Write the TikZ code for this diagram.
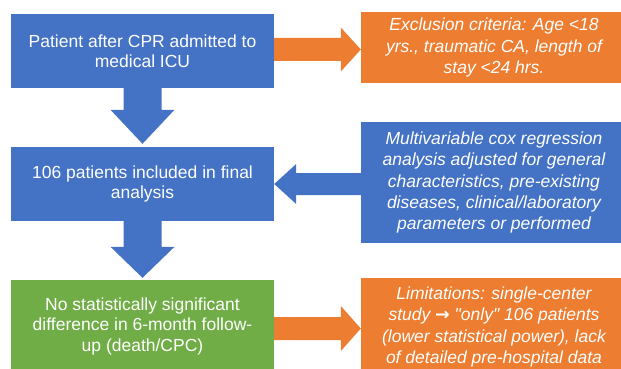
\documentclass[tikz,border=0pt]{standalone}
\usepackage{fontspec}
\setmainfont{Liberation Sans}
\newfontfamily\arrowfont{DejaVu Sans}
\usetikzlibrary{positioning,calc}
\definecolor{boxblue}{RGB}{68,114,196}
\definecolor{boxorange}{RGB}{237,125,49}
\definecolor{boxgreen}{RGB}{112,173,71}

% block arrow: colour, start, tip, shaft half width, head half width, head length
\newcommand{\bigarrow}[6]{%
  \coordinate (hb) at ($(#3)!#6!(#2)$);
  \fill[#1] ($(#2)!#4!90:(#3)$) -- ($(hb)!#4!90:(#3)$) -- ($(hb)!#5!90:(#3)$)
    -- (#3) -- ($(hb)!#5!-90:(#3)$) -- ($(hb)!#4!-90:(#3)$) -- ($(#2)!#4!-90:(#3)$) -- cycle;
}

\tikzset{
  stepbox/.style={fill=#1, text=white, minimum width=263pt, align=center,
    inner sep=0pt, font=\fontsize{17.5}{20.5}\selectfont},
  notebox/.style={fill=#1, text=white, minimum width=266pt, align=center,
    inner sep=0pt, font=\fontsize{17.5}{21.3}\selectfont\itshape}
}

\begin{document}
\begin{tikzpicture}[x=1pt, y=-1pt]
  \useasboundingbox (0,0) rectangle (621,369);
  \clip (0,0) rectangle (621,369);

  % left column
  \node[stepbox=boxblue, minimum height=74pt] (admit) at (142.5,51)
       {Patient after CPR admitted to\\medical ICU};
  \node[stepbox=boxblue, minimum height=74pt] (final) at (142.5,184)
       {106 patients included in final\\analysis};
  \node[stepbox=boxgreen, minimum height=92pt] (result) at (142.5,326)
       {No statistically significant\\difference in 6-month follow-\\up (death/CPC)};

  % right column
  \node[notebox=boxorange, minimum height=71pt] (exclude) at (494,47.5)
       {Exclusion criteria: Age <18\\yrs., traumatic CA, length of\\stay <24 hrs.};
  \node[notebox=boxblue, minimum height=121pt] (cox) at (494,182.5)
       {Multivariable cox regression\\analysis adjusted for general\\characteristics, pre-existing\\diseases, clinical/laboratory\\parameters or performed};
  \node[notebox=boxorange, minimum height=98pt] (limits) at (494,327)
       {Limitations: single-center\\study {\arrowfont\bfseries→} \textquotedbl only\textquotedbl{} 106 patients\\(lower statistical power), lack\\of detailed pre-hospital data};

  % arrows
  \coordinate (a1s) at ($(admit.east)+(0,-1.5)$);
  \coordinate (a1e) at (exclude.west |- a1s);
  \bigarrow{boxorange}{a1s}{a1e}{11.5pt}{22pt}{20pt}

  \coordinate (a2e) at ($(final.north)+(0,-3)$);
  \bigarrow{boxblue}{admit.south}{a2e}{19pt}{32pt}{34pt}

  \coordinate (a3s) at (cox.west |- final.east);
  \bigarrow{boxblue}{a3s}{final.east}{11pt}{20pt}{22pt}

  \coordinate (a4e) at ($(result.north)+(0,-2)$);
  \bigarrow{boxblue}{final.south}{a4e}{19pt}{32pt}{31pt}

  \coordinate (a5s) at ($(result.east)+(0,2.5)$);
  \coordinate (a5e) at (limits.west |- a5s);
  \bigarrow{boxorange}{a5s}{a5e}{11.5pt}{22.5pt}{20pt}
\end{tikzpicture}
\end{document}
